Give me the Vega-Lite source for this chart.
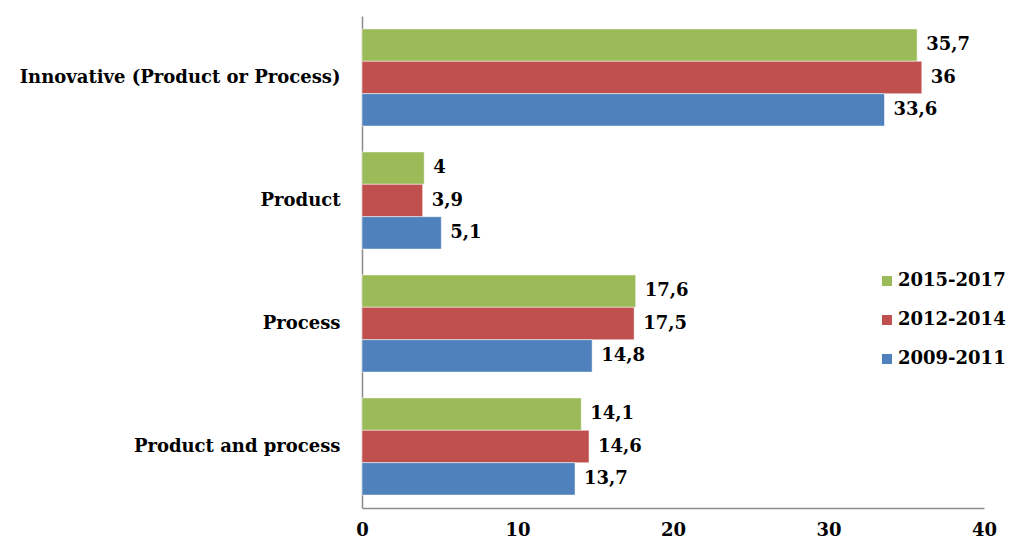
{
  "$schema": "https://vega.github.io/schema/vega-lite/v6.json",
  "width": 622,
  "height": 492,
  "autosize": {"type": "none"},
  "padding": {"left": 362, "top": 16, "right": 26, "bottom": 37},
  "background": "white",
  "config": {"view": {"stroke": null}, "font": "DejaVu Serif"},
  "data": {
    "values": [
      {"category": "Innovative (Product or Process)", "period": "2015-2017", "value": 35.7, "label": "35,7"},
      {"category": "Innovative (Product or Process)", "period": "2012-2014", "value": 36, "label": "36"},
      {"category": "Innovative (Product or Process)", "period": "2009-2011", "value": 33.6, "label": "33,6"},
      {"category": "Product", "period": "2015-2017", "value": 4, "label": "4"},
      {"category": "Product", "period": "2012-2014", "value": 3.9, "label": "3,9"},
      {"category": "Product", "period": "2009-2011", "value": 5.1, "label": "5,1"},
      {"category": "Process", "period": "2015-2017", "value": 17.6, "label": "17,6"},
      {"category": "Process", "period": "2012-2014", "value": 17.5, "label": "17,5"},
      {"category": "Process", "period": "2009-2011", "value": 14.8, "label": "14,8"},
      {"category": "Product and process", "period": "2015-2017", "value": 14.1, "label": "14,1"},
      {"category": "Product and process", "period": "2012-2014", "value": 14.6, "label": "14,6"},
      {"category": "Product and process", "period": "2009-2011", "value": 13.7, "label": "13,7"}
    ]
  },
  "encoding": {
    "y": {
      "field": "category", "type": "nominal",
      "sort": ["Innovative (Product or Process)", "Product", "Process", "Product and process"],
      "scale": {"paddingInner": 0.21, "paddingOuter": 0.105},
      "axis": {
        "title": null, "ticks": false, "labelPadding": 22,
        "labelFont": "DejaVu Serif", "labelFontWeight": "bold", "labelFontSize": 18, "labelColor": "black",
        "domainColor": "#8c8c8c", "domainWidth": 1.5, "labelLimit": 400
      }
    },
    "yOffset": {
      "field": "period", "type": "nominal",
      "sort": ["2015-2017", "2012-2014", "2009-2011"],
      "scale": {"paddingInner": 0, "paddingOuter": 0}
    },
    "x": {
      "field": "value", "type": "quantitative",
      "scale": {"domain": [0, 40], "nice": false},
      "axis": {
        "title": null, "values": [0, 10, 20, 30, 40], "ticks": false, "grid": false, "labelPadding": 13,
        "labelFont": "DejaVu Serif", "labelFontWeight": "bold", "labelFontSize": 18, "labelColor": "black",
        "domainColor": "#8c8c8c", "domainWidth": 1.5, "labelFlush": false
      }
    }
  },
  "layer": [
    {
      "mark": {"type": "bar", "stroke": "white", "strokeWidth": 0.5},
      "encoding": {
        "color": {
          "field": "period", "type": "nominal",
          "sort": ["2015-2017", "2012-2014", "2009-2011"],
          "scale": {"domain": ["2015-2017", "2012-2014", "2009-2011"], "range": ["#9BBB59", "#C0504D", "#4F81BD"]},
          "legend": {
            "title": null, "orient": "none", "legendX": 516, "legendY": 256,
            "symbolType": "square", "symbolSize": 100, "symbolStrokeWidth": 0,
            "labelFont": "DejaVu Serif", "labelFontWeight": "bold", "labelFontSize": 18, "labelColor": "black",
            "rowPadding": 21, "labelOffset": 2
          }
        }
      }
    },
    {
      "mark": {"type": "text", "align": "left", "baseline": "middle", "dx": 9, "font": "DejaVu Serif", "fontWeight": "bold", "fontSize": 18, "color": "black"},
      "encoding": {"text": {"field": "label"}}
    }
  ]
}
